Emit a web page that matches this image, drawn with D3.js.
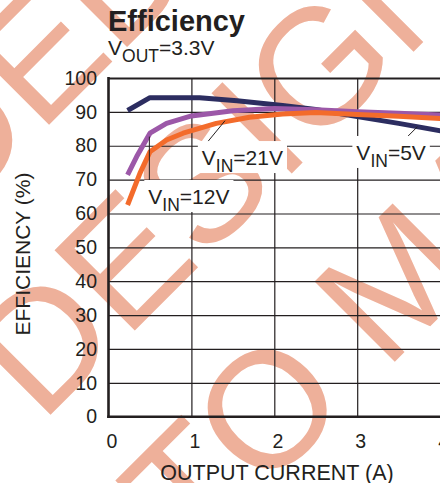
<!DOCTYPE html>
<html><head><meta charset="utf-8">
<script src="https://cdn.jsdelivr.net/npm/d3@7"></script>
<style>
html,body{margin:0;padding:0;background:#fff;}
svg{display:block;font-family:"Liberation Sans",Arial,sans-serif;}
</style>
</head><body>
<svg id="chart" width="440" height="483"></svg>
<script>
// ---- data ----
const xTicks = [0, 1, 2, 3, 4];
const yTicks = [0, 10, 20, 30, 40, 50, 60, 70, 80, 90, 100];

const vin5X  = [0.23, 0.5, 1.1, 1.55, 2.1, 2.5, 3.0, 3.5, 4.05];
const vin5Y  = [90.4, 94.2, 94.2, 93.3, 91.9, 90.7, 88.6, 86.6, 84.2];

const vin21X = [0.23, 0.34, 0.5, 0.7, 1.0, 1.5, 2.0, 2.5, 3.0, 3.5, 4.05];
const vin21Y = [71.4, 76.8, 83.7, 86.6, 88.8, 90.3, 91.0, 90.6, 90.0, 89.6, 89.0];

const vin12X = [0.23, 0.38, 0.5, 0.7, 0.9, 1.3, 1.7, 2.1, 2.5, 3.0, 3.5, 4.05];
const vin12Y = [62.5, 71.9, 78.2, 81.7, 83.7, 86.6, 88.4, 89.4, 89.8, 89.2, 88.7, 88.0];

const seriesNames = ["5V", "21V", "12V"];
const titleText = "Efficiency";
const xTitle = "OUTPUT CURRENT (A)";
const yTitle = "EFFICIENCY (%)";

// ---- layout ----
const svg = d3.select("#chart");
const L = 108.5, T = 78, B = 416.7;
const x = d3.scaleLinear().domain([0, 5]).range([L, L + 5 * 82.9]);
const y = d3.scaleLinear().domain([0, 100]).range([B, T]);
const ink = "#231F20";

// ---- watermark (behind everything) ----
const wmFS = 165, wmColor = "#EEB09A";
const wm = svg.append("g");
function wmText(str, u, n, anchor) {
  const x0 = 0.7071 * (u + n), y0 = 0.7071 * (n - u);
  wm.append("text").attr("transform", `translate(${x0},${y0}) rotate(-45)`)
    .attr("text-anchor", anchor).attr("font-size", wmFS).attr("fill", wmColor).text(str);
}
const wmLines = [
  {pre: "NOT RECOMMEND", main: "ED", u: -67, n: 123, gap: 0},
  {pre: "FOR NEW", main: "DESIGNS", u: -271, n: 329, gap: 1},
  {pre: "REFER", main: "TO MAXIM", u: -262, n: 535, gap: 1}
];
wmLines.forEach(l => {
  wmText(l.main, l.u, l.n, "start");
  wmText(l.pre, l.u - 0.278 * wmFS * l.gap, l.n, "end");
});

// ---- grid ----
const W = 440 - L + 100;
svg.append("g").attr("transform", `translate(${L},0)`)
  .call(d3.axisLeft(y).tickValues(yTicks).tickSize(-W).tickFormat(""))
  .call(g => g.select(".domain").remove())
  .call(g => g.selectAll("line").attr("stroke", ink).attr("stroke-width", d => d === 100 ? 2 : 1.2));
svg.append("g").attr("transform", `translate(0,${B})`)
  .call(d3.axisBottom(x).tickValues(xTicks.slice(1)).tickSize(-(B - T)).tickFormat(""))
  .call(g => g.select(".domain").remove())
  .call(g => g.selectAll("line").attr("stroke", ink).attr("stroke-width", 1.2));

// axis frame lines
svg.append("line").attr("x1", L).attr("x2", L).attr("y1", T - 1).attr("y2", B + 1.3)
  .attr("stroke", ink).attr("stroke-width", 2.6);
svg.append("line").attr("x1", L - 1.3).attr("x2", 440).attr("y1", B).attr("y2", B)
  .attr("stroke", ink).attr("stroke-width", 2.6);

// tick labels
svg.append("g").attr("transform", `translate(${L},0)`)
  .call(d3.axisLeft(y).tickValues(yTicks).tickFormat(d3.format("d")).tickSize(0).tickPadding(11.5))
  .call(g => g.select(".domain").remove())
  .call(g => g.selectAll("text").attr("font-size", 19.5).attr("fill", ink)
    .attr("font-family", "Liberation Sans, Arial, sans-serif"));
svg.append("g").attr("transform", `translate(0,${B})`)
  .call(d3.axisBottom(x).tickValues(xTicks).tickFormat(d3.format("d")).tickSize(0).tickPadding(17.5))
  .call(g => g.select(".domain").remove())
  .call(g => g.selectAll("text").attr("font-size", 19.5).attr("fill", ink).attr("dx", 3)
    .attr("font-family", "Liberation Sans, Arial, sans-serif"));

// ---- curves ----
const line = d3.line().x(d => x(d[0])).y(d => y(d[1]));
const series = [
  {xs: vin5X, ys: vin5Y, color: "#2C2D60"},
  {xs: vin21X, ys: vin21Y, color: "#9C58A8"},
  {xs: vin12X, ys: vin12Y, color: "#F36B2B"}
];
series.forEach(s => {
  svg.append("path").datum(s.xs.map((v, i) => [v, s.ys[i]]))
    .attr("d", line).attr("fill", "none").attr("stroke", s.color)
    .attr("stroke-width", 5).attr("stroke-linejoin", "round").attr("stroke-linecap", "butt");
});

// ---- annotations ----
const leaders = [
  [[3.546, 81.2], [3.726, 85.6]],
  [[1.174, 80.5], [1.406, 87.4]],
  [[0.493, 82.7], [0.493, 68.0]]
];
leaders.forEach(p => {
  svg.append("line").attr("x1", x(p[0][0])).attr("y1", y(p[0][1]))
    .attr("x2", x(p[1][0])).attr("y2", y(p[1][1]))
    .attr("stroke", ink).attr("stroke-width", 1);
});
const labelPos = [[2.99, 75.8], [1.126, 74.3], [0.48, 62.8]];
seriesNames.forEach((name, i) => {
  const g = svg.append("g");
  const bx = x(labelPos[i][0]), by = y(labelPos[i][1]);
  const rect = g.append("rect").attr("fill", "#fff");
  const t = g.append("text").attr("x", bx).attr("y", by).attr("font-size", 21).attr("fill", ink);
  t.append("tspan").text("V");
  t.append("tspan").attr("font-size", 17.5).attr("dy", 7).text("IN");
  t.append("tspan").attr("dy", -7).text("=" + name);
  const bb = t.node().getBBox();
  rect.attr("x", bb.x - 4).attr("y", bb.y - 5).attr("width", bb.width + 8).attr("height", by + 8 - (bb.y - 5));
});

// ---- titles ----
svg.append("text").attr("x", 108).attr("y", 31).attr("font-size", 29).attr("font-weight", "bold")
  .attr("fill", ink).text(titleText);
const sub = svg.append("text").attr("x", 108).attr("y", 55).attr("font-size", 21).attr("fill", ink);
sub.append("tspan").text("V");
sub.append("tspan").attr("font-size", 17.5).attr("dy", 7).text("OUT");
sub.append("tspan").attr("dy", -7).text("=3.3V");

svg.append("text").attr("x", 277).attr("y", 480).attr("text-anchor", "middle")
  .attr("font-size", 21.5).attr("fill", ink).text(xTitle);
svg.append("text").attr("transform", "translate(30,254) rotate(-90)").attr("text-anchor", "middle")
  .attr("font-size", 21).attr("fill", ink).text(yTitle);
</script>
</body></html>
